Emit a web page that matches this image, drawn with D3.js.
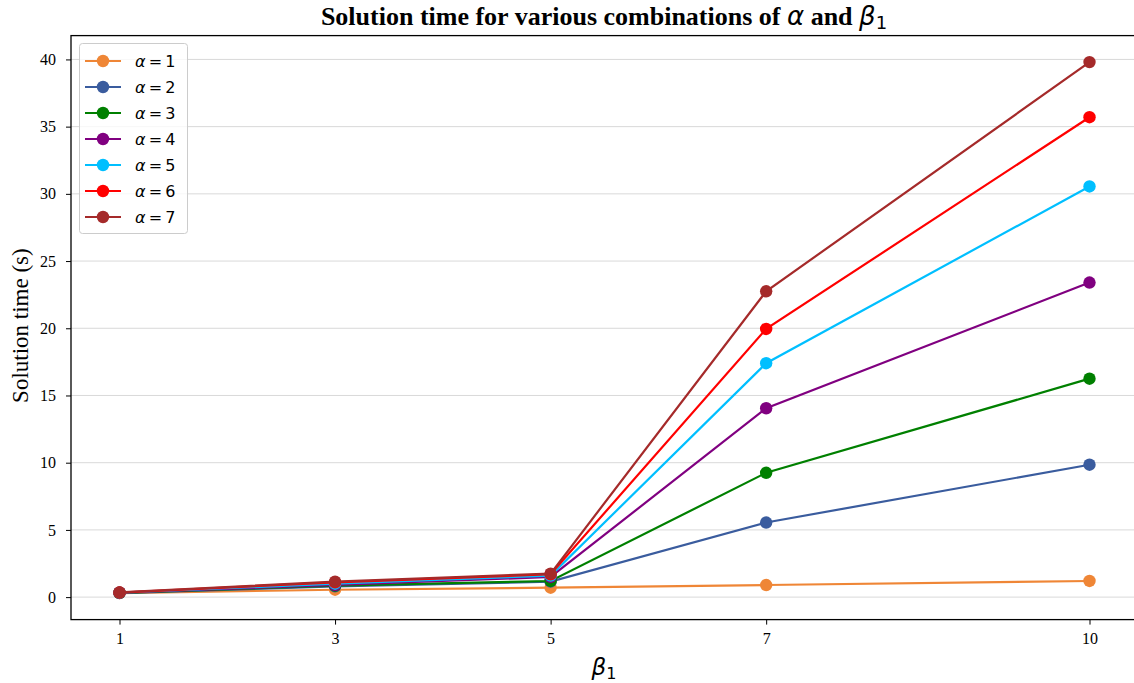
<!DOCTYPE html>
<html><head><meta charset="utf-8">
<script src="https://cdn.jsdelivr.net/npm/d3@7"></script>
<style>body{margin:0;background:#fff;} svg{display:block;}</style>
</head><body>
<svg id="chart" width="1134" height="683"></svg>
<script>
const betaValues = [1, 3, 5, 7, 10];
const alphaLabels = [1, 2, 3, 4, 5, 6, 7];
const seriesColors = ["#EF8636", "#3A5C9E", "#008000", "#800080", "#00BFFF", "#FF0000", "#A52A2A"];
const alpha1 = [0.30, 0.55, 0.70, 0.90, 1.20];
const alpha2 = [0.30, 0.80, 1.15, 5.55, 9.85];
const alpha3 = [0.32, 0.85, 1.20, 9.25, 16.25];
const alpha4 = [0.33, 0.90, 1.50, 14.05, 23.40];
const alpha5 = [0.33, 1.00, 1.60, 17.40, 30.55];
const alpha6 = [0.34, 1.10, 1.70, 19.95, 35.70];
const alpha7 = [0.35, 1.15, 1.75, 22.75, 39.80];
const yTicks = [0, 5, 10, 15, 20, 25, 30, 35, 40];

const series = [alpha1, alpha2, alpha3, alpha4, alpha5, alpha6, alpha7];

(function () {
const svg = d3.select("#chart");
const mL = 71, mT = 35.6, mB = 619.6, mR = 1138;

const x = d3.scaleLinear().domain([0.55, 10.45]).range([mL, mR]);
const y = d3.scaleLinear().domain([-1.6725, 41.7725]).range([mB, mT]);

// grid
svg.append("g").selectAll("line").data(yTicks).join("line")
  .attr("x1", mL).attr("x2", mR)
  .attr("y1", d => y(d)).attr("y2", d => y(d))
  .attr("stroke", "#d9d9d9").attr("stroke-width", 1);

// series
const line = d3.line().x((d, i) => x(betaValues[i])).y(d => y(d));
series.forEach((s, k) => {
  const g = svg.append("g");
  g.append("path").datum(s).attr("d", line)
    .attr("fill", "none").attr("stroke", seriesColors[k]).attr("stroke-width", 2.2);
  g.selectAll("circle").data(s).join("circle")
    .attr("cx", (d, i) => x(betaValues[i])).attr("cy", d => y(d))
    .attr("r", 6.2).attr("fill", seriesColors[k]);
});

// axes
const xAxis = d3.axisBottom(x).tickValues(betaValues).tickSize(5).tickPadding(8).tickFormat(d3.format("d"));
const yAxis = d3.axisLeft(y).tickValues(yTicks).tickSize(5).tickPadding(10).tickFormat(d3.format("d"));
const gx = svg.append("g").attr("transform", `translate(0,${mB})`).call(xAxis);
const gy = svg.append("g").attr("transform", `translate(${mL},0)`).call(yAxis);
[gx, gy].forEach(g => {
  g.select(".domain").remove();
  g.selectAll("line").attr("stroke", "#000").attr("stroke-width", 1);
  g.selectAll("text").attr("font-family", "Liberation Serif, Times New Roman, serif")
    .attr("font-size", 16).attr("fill", "#000");
});
// spines
svg.append("rect").attr("x", mL).attr("y", mT).attr("width", mR - mL).attr("height", mB - mT)
  .attr("fill", "none").attr("stroke", "#000").attr("stroke-width", 1.3);

// title
const title = svg.append("text").attr("x", 604).attr("y", 25).attr("text-anchor", "middle")
  .attr("font-family", "Liberation Serif, Times New Roman, serif").attr("font-size", 26)
  .attr("font-weight", "bold").attr("fill", "#000");
title.append("tspan").text("Solution time for various combinations of ");
title.append("tspan").attr("font-family", "DejaVu Sans").attr("font-style", "italic").attr("font-weight", "normal").text("α");
title.append("tspan").text(" and ");
title.append("tspan").attr("font-family", "DejaVu Sans").attr("font-style", "italic").attr("font-weight", "normal").text("β");
title.append("tspan").attr("font-family", "DejaVu Sans").attr("font-weight", "normal").attr("font-size", 18).attr("dy", 4).text("1");

// y label
svg.append("text").attr("transform", `translate(28,${(mT + mB) / 2 - 2}) rotate(-90)`)
  .attr("text-anchor", "middle").attr("font-family", "Liberation Serif, Times New Roman, serif")
  .attr("font-size", 23).attr("fill", "#000").text("Solution time (s)");

// x label
const xl = svg.append("text").attr("x", 604).attr("y", 675).attr("text-anchor", "middle")
  .attr("font-family", "DejaVu Sans").attr("font-size", 23).attr("fill", "#000");
xl.append("tspan").attr("font-style", "italic").text("β");
xl.append("tspan").attr("font-size", 16).attr("dy", 4).text("1");

// legend
const lg = svg.append("g");
lg.append("rect").attr("x", 79.5).attr("y", 43.5).attr("width", 108).attr("height", 190)
  .attr("rx", 3).attr("fill", "#fff").attr("fill-opacity", 0.8).attr("stroke", "#ccc");
alphaLabels.forEach((a, k) => {
  const yy = 61 + k * 26;
  lg.append("line").attr("x1", 85).attr("x2", 121).attr("y1", yy).attr("y2", yy)
    .attr("stroke", seriesColors[k]).attr("stroke-width", 2.2);
  lg.append("circle").attr("cx", 103).attr("cy", yy).attr("r", 6.2).attr("fill", seriesColors[k]);
  const t = lg.append("text").attr("x", 135).attr("y", yy + 5.5)
    .attr("font-family", "DejaVu Sans").attr("font-size", 16).attr("fill", "#000");
  t.append("tspan").attr("font-style", "italic").text("α");
  t.append("tspan").text("\u2009=\u2009" + a);
});
})();
</script>
</body></html>
